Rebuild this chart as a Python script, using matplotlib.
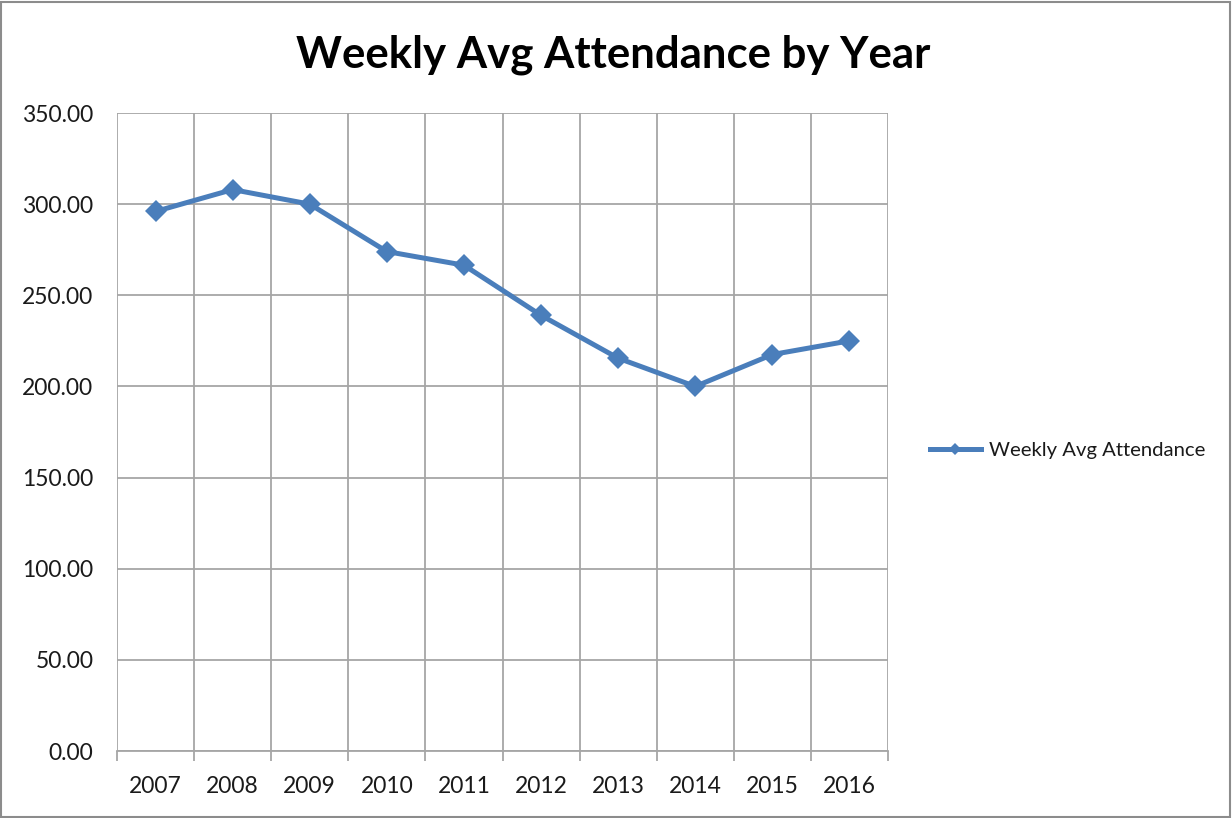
import matplotlib
matplotlib.use("Agg")
import matplotlib.pyplot as plt
from matplotlib.patches import Rectangle

years = ["2007", "2008", "2009", "2010", "2011", "2012", "2013", "2014", "2015", "2016"]
attendance = [296, 308, 300, 274, 266.5, 239, 215.5, 200, 217.5, 225]
y_ticks = [0, 50, 100, 150, 200, 250, 300, 350]
series_name = "Weekly Avg Attendance"
title = "Weekly Avg Attendance by Year"

plt.rcParams['font.family'] = ['Lato', 'DejaVu Sans']

W, H = 1232, 818
fig = plt.figure(figsize=(W / 100, H / 100), dpi=100)
fig.patch.set_facecolor("white")
fig.patches.append(Rectangle((1 / W, 1 / H), 1 - 3 / W, 1 - 3 / H, transform=fig.transFigure,
                             fill=False, edgecolor="#8c8c8c", linewidth=1.5))

ax = fig.add_axes([117 / W, 1 - 751 / H, (888 - 117) / W, (751 - 113) / H])
x = list(range(len(years)))
line_color = "#4a7ebb"
ax.plot(x, attendance, color=line_color, linewidth=3.6, marker="D", markersize=11,
        markeredgewidth=0, label=series_name, solid_joinstyle="round", zorder=3)

ax.set_xlim(-0.5, len(years) - 0.5)
ax.set_ylim(0, 350)
ax.set_yticks(y_ticks)
ax.set_yticklabels([f"{v:.2f}" for v in y_ticks])
ax.set_xticks(x)
ax.set_xticklabels(years)
ax.set_xticks([i - 0.5 for i in range(len(years) + 1)], minor=True)

grid_color = "#a6a6a6"
ax.grid(True, axis="y", which="major", color=grid_color, linewidth=1.3)
ax.grid(True, axis="x", which="minor", color=grid_color, linewidth=1.3)
ax.grid(False, axis="x", which="major")
for s in ["top", "right", "left"]:
    ax.spines[s].set_visible(False)
ax.spines["bottom"].set_color(grid_color)
ax.spines["bottom"].set_linewidth(1.3)
ax.set_axisbelow(True)

ax.tick_params(axis="y", which="both", length=0, pad=17, labelsize=16.5, labelcolor="#1a1a1a")
ax.tick_params(axis="x", which="major", length=0, pad=18, labelsize=16.5, labelcolor="#1a1a1a")
ax.tick_params(axis="x", which="minor", length=7, width=1.3, color=grid_color, direction="out")

fig.text(0.4975, 1 - 55 / H, title, ha="center", va="center", fontsize=31.5, fontweight="bold", color="black")

leg = fig.legend(loc="center left", bbox_to_anchor=(930 / W, 1 - 450 / H), frameon=False,
                 fontsize=14.6, handlelength=2.5, handletextpad=0.4, markerscale=0.6,
                 borderpad=0, borderaxespad=0)
for t in leg.get_texts():
    t.set_color("#1a1a1a")

fig.savefig("out.png", dpi=100, facecolor="white")
